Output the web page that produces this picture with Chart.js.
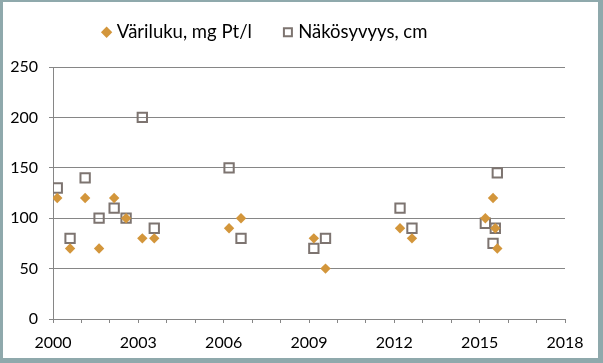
<!DOCTYPE html>
<html>
<head>
<meta charset="utf-8">
<script src="https://cdn.jsdelivr.net/npm/chart.js@4"></script>
<style>
  html, body { margin: 0; padding: 0; background: #fff; }
  #frame {
    position: absolute; left: 0; top: 0;
    width: 603px; height: 363px; box-sizing: border-box;
    border-style: solid; border-color: #8fa9ac;
    border-width: 2px 5px 5px 3px;
    background: #fff;
  }
  #wrap { position: relative; width: 595px; height: 356px; }
</style>
</head>
<body>
<div id="frame"><div id="wrap"><canvas id="chart"></canvas></div></div>
<script>
// sample dates (decimal years), shared by both series
const years = [2000.15, 2000.6, 2001.13, 2001.62, 2002.15, 2002.57, 2003.14, 2003.56,
  2006.19, 2006.61, 2009.17, 2009.58, 2012.2, 2012.62, 2015.2, 2015.47, 2015.55, 2015.62]
const variluku = [120, 70, 120, 70, 120, 100, 80, 80, 90, 100, 80, 50, 90, 80, 100, 120, 90, 70]
const nakosyvyys = [130, 80, 140, 100, 110, 100, 200, 90, 150, 80, 70, 80, 110, 90, 95, 75, 90, 145]
const seriesNames = ['Väriluku, mg Pt/l', 'Näkösyvyys, cm']
const xLabels = [2000, 2003, 2006, 2009, 2012, 2015, 2018]

const font = 'Lato'

// fixed legend block height + move the legend a bit left (like the original)
const legendBox = {
  id: 'legendBox',
  beforeInit(chart) {
    const fit = chart.legend.fit
    chart.legend.fit = function () {
      fit.bind(chart.legend)()
      this.height = 65
    }
  },
  afterLayout(chart) {
    chart.legend.left = 0
    chart.legend.right = 527
    chart.legend.top -= 14
  },
}

const ctx = document.getElementById('chart').getContext('2d')
new Chart(ctx, {
  type: 'scatter',
  data: {
    datasets: [
      {
        label: seriesNames[0],
        data: years.map((x, i) => ({ x: x, y: variluku[i] })),
        pointStyle: 'rectRot',
        pointRadius: 5.2,
        pointHoverRadius: 5.2,
        backgroundColor: '#d3963b',
        borderColor: '#d3963b',
        borderWidth: 0,
      },
      {
        label: seriesNames[1],
        data: years.map((x, i) => ({ x: x, y: nakosyvyys[i] })),
        pointStyle: 'rect',
        pointRadius: 6.6,
        pointHoverRadius: 6.6,
        backgroundColor: 'rgba(255,255,255,0)',
        borderColor: '#7d7470',
        borderWidth: 2,
      },
    ],
  },
  options: {
    responsive: true,
    maintainAspectRatio: false,
    animation: false,
    layout: { padding: { left: 0, right: 33, top: 0, bottom: 0 } },
    plugins: {
      tooltip: { enabled: false },
      legend: {
        position: 'top',
        labels: {
          usePointStyle: true,
          boxWidth: 2,
          boxHeight: 8,
          padding: 35,
          color: '#000',
          font: { family: font, size: 18.5 },
        },
      },
    },
    scales: {
      x: {
        type: 'linear',
        min: 2000,
        max: 2018,
        afterFit: (s) => { s.height = 39 },
        afterBuildTicks: (s) => {
          const t = []
          for (let v = 2000; v <= 2018; v++) t.push({ value: v })
          s.ticks = t
        },
        ticks: {
          autoSkip: false,
          maxRotation: 0,
          padding: 10,
          color: '#000',
          font: { family: font, size: 16 },
          callback: (v) => (xLabels.includes(v) ? String(v) : ''),
        },
        grid: { drawOnChartArea: false, drawTicks: true, tickLength: 4, color: '#868686' },
        border: { color: '#868686' },
      },
      y: {
        min: 0,
        max: 250,
        afterFit: (s) => { s.width = 50 },
        ticks: { stepSize: 50, padding: 11, color: '#000', font: { family: font, size: 16 } },
        grid: { color: '#868686', tickLength: 4 },
        border: { color: '#868686' },
      },
    },
  },
  plugins: [legendBox],
})
</script>
</body>
</html>
